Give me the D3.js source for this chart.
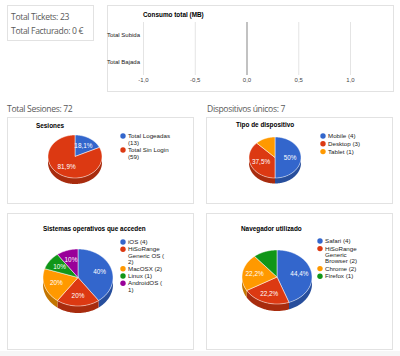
<!DOCTYPE html>
<html><head><meta charset="utf-8">
<script src="https://cdn.jsdelivr.net/npm/d3@7"></script>
<style>
html,body{margin:0;padding:0;background:#fff;}
svg{display:block;}
</style></head>
<body>
<script>
// ---------- data ----------
const summaryLines = ["Total Tickets: 23", "Total Facturado: 0 €"];
const sectionHeadings = ["Total Sesiones: 72", "Dispositivos únicos: 7"];

const barTitle = "Consumo total (MB)";
const barCategories = ["Total Subida", "Total Bajada"];
const barValues = [0, 0];
const barTicks = [-1, -0.5, 0, 0.5, 1];

const sessTitle = "Sesiones";
const sessLabels = ["Total Logeadas", "Total Sin Login"];
const sessValues = [13, 59];
const sessLegend = [["Total Logeadas", "(13)"], ["Total Sin Login", "(59)"]];

const devTitle = "Tipo de dispositivo";
const devLabels = ["Mobile", "Desktop", "Tablet"];
const devValues = [4, 3, 1];
const devLegend = [["Mobile (4)"], ["Desktop (3)"], ["Tablet (1)"]];

const osTitle = "Sistemas operativos que acceden";
const osLabels = ["iOS", "HiSoRange Generic OS", "MacOSX", "Linux", "AndroidOS"];
const osValues = [4, 2, 2, 1, 1];
const osLegend = [["iOS (4)"], ["HiSoRange", "Generic OS (", "2)"], ["MacOSX (2)"], ["Linux (1)"], ["AndroidOS (", "1)"]];

const brTitle = "Navegador utilizado";
const brLabels = ["Safari", "HiSoRange Generic Browser", "Chrome", "Firefox"];
const brValues = [4, 2, 2, 1];
const brLegend = [["Safari (4)"], ["HiSoRange", "Generic", "Browser (2)"], ["Chrome (2)"], ["Firefox (1)"]];

const palette = ["#3366cc", "#dc3912", "#ff9900", "#109618", "#990099"];

// ---------- page ----------
const W = 400, H = 356;
const svg = d3.select("body").append("svg").attr("width", W).attr("height", H);
const SANS = "'Liberation Sans', Arial, sans-serif";
const HEAD = "'Open Sans', 'Noto Sans', sans-serif";

svg.append("rect").attr("x", 0).attr("y", 351).attr("width", W).attr("height", 5).attr("fill", "#f6f6f6");

function box(x, y, w, h) {
  svg.append("rect").attr("x", x + 0.5).attr("y", y + 0.5).attr("width", w).attr("height", h)
    .attr("fill", "#fff").attr("stroke", "#e2e2e2").attr("stroke-width", 1);
}
box(7, 5, 86, 35);
box(107, 5, 286, 86);
box(7, 117, 186, 86);
box(206, 117, 186, 86);
box(7, 213, 186, 136);
box(206, 213, 186, 136);

svg.selectAll("text.summary").data(summaryLines).join("text")
  .attr("x", 11).attr("y", (d, i) => 19.5 + i * 14)
  .attr("font-family", HEAD).attr("font-size", 8.6).attr("letter-spacing", -0.35)
  .attr("fill", "#5a5a5a").text(d => d);

svg.selectAll("text.head").data(sectionHeadings).join("text")
  .attr("x", (d, i) => i ? 207 : 7).attr("y", 111.5)
  .attr("font-family", HEAD).attr("font-size", 8.6).attr("letter-spacing", -0.35)
  .attr("fill", "#5a5a5a").text(d => d);

// ---------- bar chart ----------
const fmtTick = v => d3.format(".1f")(v).replace(".", ",").replace("−", "-");
const bx = d3.scaleLinear().domain([-1, 1]).range([143, 350]);
const by = d3.scaleBand().domain(barCategories).range([22, 75]);
const bg = svg.append("g");
bg.append("text").attr("x", 143).attr("y", 16.5).attr("font-family", SANS).attr("font-size", 6.4)
  .attr("font-weight", "bold").attr("fill", "#000").text(barTitle);
const xAxis = bg.append("g").attr("transform", "translate(0,75)")
  .call(d3.axisBottom(bx).tickValues(barTicks).tickFormat(fmtTick).tickSize(-53).tickPadding(3));
xAxis.select(".domain").remove();
xAxis.selectAll(".tick line").attr("stroke", d => d === 0 ? "#999" : "#e4e4e4").attr("stroke-width", d => d === 0 ? 1.2 : 1);
xAxis.selectAll(".tick text").attr("font-family", SANS).attr("font-size", 6).attr("fill", "#444");
const yAxis = bg.append("g").attr("transform", "translate(140,0)")
  .call(d3.axisLeft(by).tickSize(0).tickPadding(0));
yAxis.select(".domain").remove();
yAxis.selectAll(".tick text").attr("font-family", SANS).attr("font-size", 6).attr("fill", "#222");
bg.selectAll("rect.bar").data(barValues).join("rect")
  .attr("x", d => Math.min(bx(0), bx(d))).attr("width", d => Math.abs(bx(d) - bx(0)))
  .attr("y", (d, i) => by(barCategories[i]) + by.bandwidth() * 0.2).attr("height", by.bandwidth() * 0.6)
  .attr("fill", palette[0]);

// ---------- 3D pies ----------
function pt(cx, cy, rx, ry, a) { return [cx + rx * Math.sin(a), cy - ry * Math.cos(a)]; }
function arcPts(cx, cy, rx, ry, a0, a1) {
  const n = Math.max(2, Math.ceil((a1 - a0) / 0.02));
  return d3.range(n + 1).map(i => pt(cx, cy, rx, ry, a0 + (a1 - a0) * i / n));
}
const line = d3.line();
const fmtPct = p => (Math.round(p * 1000) / 10).toString().replace(".", ",") + "%";

function drawPie(o) {
  const g = svg.append("g");
  const color = d3.scaleOrdinal().domain(o.labels).range(palette);
  const total = d3.sum(o.values);
  const arcs = d3.pie().sort(null).value(d => d)(o.values);
  const {cx, cy, rx, ry, depth} = o;
  g.append("text").attr("x", o.titleX).attr("y", o.titleY).attr("font-family", SANS).attr("font-size", 6.4)
    .attr("font-weight", "bold").attr("fill", "#000").text(o.title);
  // sides
  arcs.forEach((a, i) => {
    const s = Math.max(a.startAngle, Math.PI / 2), e = Math.min(a.endAngle, 3 * Math.PI / 2);
    if (e <= s) return;
    const top = arcPts(cx, cy, rx, ry, s, e);
    const bot = arcPts(cx, cy + depth, rx, ry, s, e).reverse();
    g.append("path").attr("d", line(top.concat(bot)) + "Z")
      .attr("fill", d3.color(color(o.labels[i])).darker(0.75));
  });
  // tops
  arcs.forEach((a, i) => {
    const pts = [[cx, cy]].concat(arcPts(cx, cy, rx, ry, a.startAngle, a.endAngle));
    g.append("path").attr("d", line(pts) + "Z").attr("fill", color(o.labels[i]))
      .attr("stroke", "#fff").attr("stroke-width", 0.5).attr("stroke-linejoin", "round");
  });
  // labels (hidden when the text does not fit the slice)
  arcs.forEach((a, i) => {
    const p = o.values[i] / total;
    const txt = fmtPct(p);
    if (p < 0.15 && txt.length > 3) return;
    const m = (a.startAngle + a.endAngle) / 2;
    const [lx, ly] = pt(cx, cy, rx * o.lf, ry * o.lf, m);
    g.append("text").attr("x", lx).attr("y", ly).attr("dy", "0.35em")
      .attr("text-anchor", "middle").attr("font-family", SANS).attr("font-size", 6.4)
      .attr("fill", "#fff").text(txt);
  });
  // legend
  let y = o.legY;
  o.legend.forEach((lines, i) => {
    g.append("circle").attr("cx", o.legX).attr("cy", y).attr("r", 2.7).attr("fill", color(o.labels[i]));
    lines.forEach((ln, j) => {
      g.append("text").attr("x", o.legX + 5).attr("y", y + j * o.lh).attr("dy", "0.35em")
        .attr("font-family", SANS).attr("font-size", 6.2).attr("fill", "#222").text(ln);
    });
    y += (lines.length - 1) * o.lh + o.gap;
  });
}

drawPie({title: sessTitle, labels: sessLabels, values: sessValues, legend: sessLegend,
  cx: 75, cy: 156.5, rx: 27, ry: 21.5, depth: 6, lf: 0.58,
  titleX: 36, titleY: 128, legX: 123, legY: 136, lh: 7, gap: 7});
drawPie({title: devTitle, labels: devLabels, values: devValues, legend: devLegend,
  cx: 275, cy: 157.5, rx: 26, ry: 20.5, depth: 5.5, lf: 0.58,
  titleX: 236, titleY: 127, legX: 323, legY: 136, lh: 7, gap: 7.8});
drawPie({title: osTitle, labels: osLabels, values: osValues, legend: osLegend,
  cx: 78, cy: 277.5, rx: 35, ry: 28.5, depth: 7, lf: 0.65,
  titleX: 43, titleY: 231, legX: 123, legY: 242, lh: 6.2, gap: 7.2});
drawPie({title: brTitle, labels: brLabels, values: brValues, legend: brLegend,
  cx: 277, cy: 277, rx: 35, ry: 27, depth: 7, lf: 0.65,
  titleX: 241, titleY: 231, legX: 320, legY: 241, lh: 6.2, gap: 7.6});
</script>
</body></html>
